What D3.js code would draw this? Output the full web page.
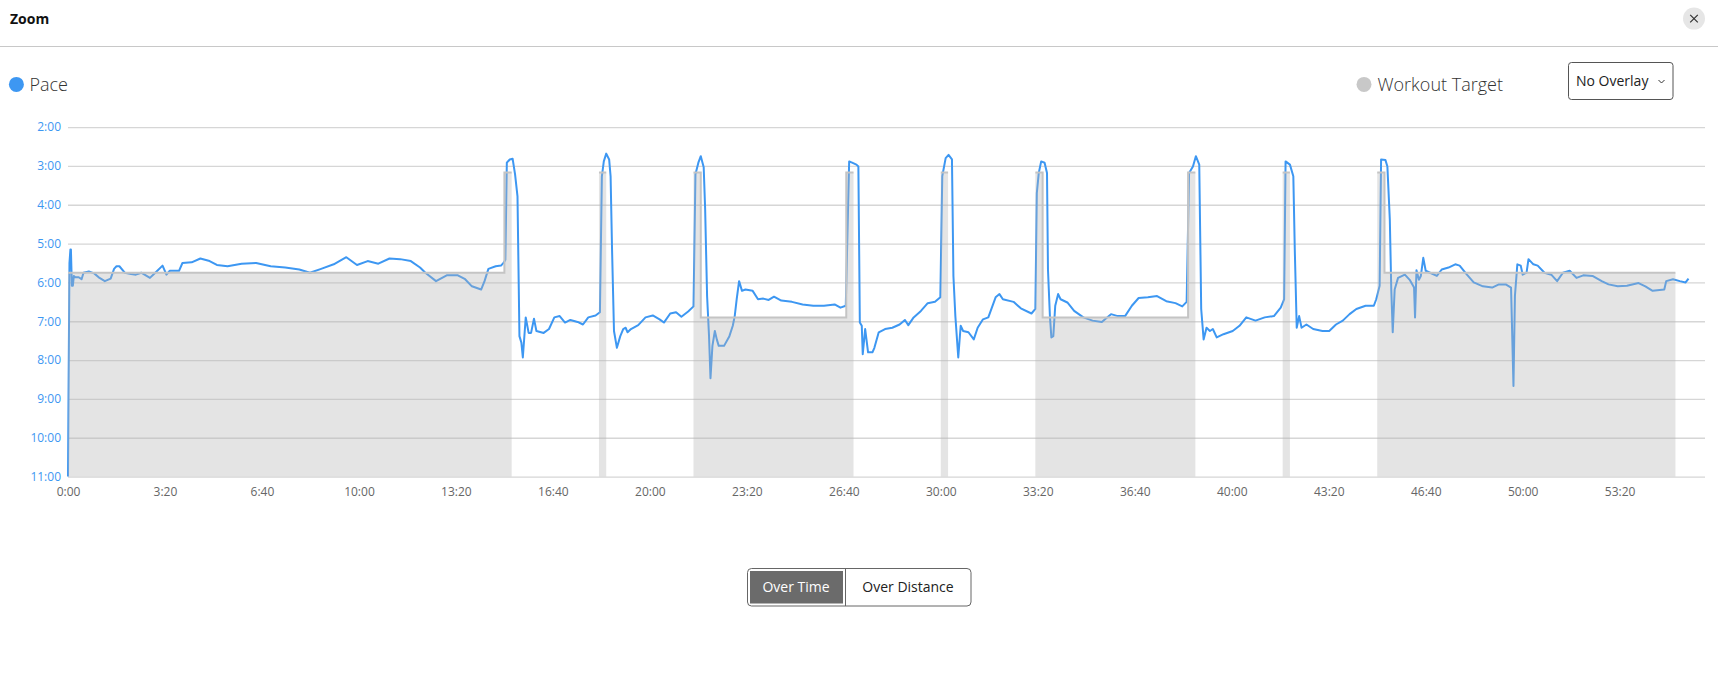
<!DOCTYPE html>
<html><head><meta charset="utf-8">
<script src="https://cdn.jsdelivr.net/npm/d3@7"></script>
<style>
html,body{margin:0;padding:0;background:#fff;}
svg{display:block;font-family:"Open Sans","Noto Sans",sans-serif;}
</style></head><body>
<svg id="c" width="1718" height="684"></svg>
<script>
// ---- data ----
const yTickValues = [120,180,240,300,360,420,480,540,600,660];
const xTickValues = [0,200,400,600,800,1000,1200,1400,1600,1800,2000,2200,2400,2600,2800,3000,3200];
const stepStart  = [0,900,915,1095,1110,1290,1305,1605,1620,1800,1815,1995,2010,2310,2325,2505,2520,2700,2715];
const stepTarget = [345,190,null,190,null,190,414,190,null,190,null,190,414,190,null,190,null,190,345];
const workoutEnd = 3315;
const paceTime = [0,1,3,5,6,8,10,12,15,22,28,32,43,54,65,76,88,95,100,106,117,130,140,151,169,180,195,203,210,229,236,255,273,292,307,329,358,388,418,448,477,499,522,548,574,596,618,640,663,685,707,726,737,759,781,804,819,833,852,859,867,882,893,899,902,905,911,917,922,927,931,935,938,944,950,955,961,966,981,992,1003,1014,1025,1036,1051,1062,1073,1088,1097,1101,1105,1110,1116,1119,1122,1126,1132,1139,1145,1150,1154,1161,1176,1191,1206,1220,1229,1242,1254,1265,1279,1290,1294,1300,1305,1311,1314,1318,1322,1325,1329,1334,1338,1342,1353,1364,1371,1375,1379,1384,1390,1397,1412,1423,1434,1445,1456,1471,1493,1515,1537,1559,1581,1593,1604,1611,1617,1626,1630,1633,1637,1639,1644,1650,1659,1663,1672,1685,1700,1715,1726,1733,1744,1759,1773,1788,1799,1803,1810,1816,1823,1826,1830,1836,1841,1846,1857,1868,1876,1887,1898,1913,1921,1928,1950,1965,1987,1995,1998,2002,2007,2014,2019,2021,2025,2028,2032,2036,2042,2047,2061,2075,2094,2113,2132,2151,2165,2180,2194,2208,2227,2246,2265,2284,2298,2307,2312,2320,2326,2333,2337,2342,2348,2355,2361,2369,2383,2402,2416,2430,2449,2468,2487,2501,2508,2511,2520,2527,2530,2534,2539,2544,2554,2568,2587,2601,2615,2629,2643,2657,2676,2693,2698,2705,2708,2717,2721,2726,2729,2732,2736,2743,2757,2767,2776,2778,2781,2786,2790,2795,2800,2809,2823,2833,2847,2861,2870,2885,2899,2918,2937,2951,2965,2976,2981,2984,2989,2996,3000,3008,3012,3022,3031,3045,3059,3071,3083,3097,3111,3125,3144,3163,3177,3196,3215,3239,3253,3268,3292,3296,3310,3324,3336,3342];
const paceValue = [660,540,330,309,309,365,365,350,352,352,355,345,343,346,353,358,354,339,335,335,345,347,348,345,353,345,334,348,342,342,330,329,323,327,333,335,331,330,335,337,340,345,339,332,321,333,327,331,323,324,327,337,345,358,349,349,355,366,371,358,339,335,334,329,325,175,170,169,193,227,443,453,476,414,438,438,416,435,438,432,414,412,422,418,421,425,414,411,406,196,173,161,170,196,309,435,461,443,432,430,437,432,426,414,411,417,422,408,406,413,405,397,193,175,165,182,247,381,443,508,458,435,448,458,458,443,427,412,386,358,373,371,373,386,385,387,382,388,390,394,396,396,394,399,396,173,175,178,181,422,427,471,432,468,468,461,437,432,430,425,418,426,414,404,392,390,383,196,168,163,170,350,412,476,427,435,437,448,430,417,414,383,378,386,390,400,408,401,222,191,173,175,191,340,412,445,443,396,378,386,391,404,414,419,421,409,412,412,396,384,383,381,389,392,397,390,191,181,165,178,401,448,430,435,432,445,440,435,427,414,419,414,412,399,386,173,178,196,309,430,412,430,425,432,435,435,425,419,409,401,396,396,386,365,170,171,181,263,371,437,371,353,348,356,368,414,341,356,350,322,342,345,350,340,337,332,334,348,360,366,368,363,363,368,520,381,332,334,348,345,324,332,334,345,348,358,345,342,353,349,350,358,363,366,365,361,366,373,371,358,355,358,360,354];

// ---- layout ----
const svg = d3.select("#c");
const W = 1718;
const plotL = 68, plotR = 1705, plotT = 127.1, plotB = 476.6;
const x = d3.scaleLinear().domain([0,3376]).range([plotL,plotR]);
const y = d3.scaleLinear().domain([120,660]).range([plotT,plotB]);
const fmt = s => Math.floor(s/60) + ":" + String(Math.round(s%60)).padStart(2,"0");

// header
svg.append("text").attr("x",10).attr("y",23.5).attr("font-size",14).attr("font-weight",700).attr("fill","#111").text("Zoom");
svg.append("circle").attr("cx",1694).attr("cy",18.6).attr("r",11).attr("fill","#e6e6e6");
svg.append("path").attr("d","M1690.2,14.8L1697.8,22.4M1697.8,14.8L1690.2,22.4").attr("stroke","#333").attr("stroke-width",1.2);
svg.append("line").attr("x1",0).attr("x2",W).attr("y1",46.5).attr("y2",46.5).attr("stroke","#c8c8c8").attr("stroke-width",1);

// legend
svg.append("circle").attr("cx",16.4).attr("cy",84.4).attr("r",7.5).attr("fill","#3d97f2");
svg.append("text").attr("x",29.5).attr("y",91).attr("font-size",18).attr("font-weight",300).attr("fill","#333").text("Pace");
svg.append("circle").attr("cx",1364).attr("cy",84.4).attr("r",7.5).attr("fill","#c8c8c8");
svg.append("text").attr("x",1377.5).attr("y",91).attr("font-size",18).attr("font-weight",300).attr("fill","#333").text("Workout Target");

// dropdown
svg.append("rect").attr("x",1568.5).attr("y",62.5).attr("width",104.5).attr("height",37).attr("rx",3).attr("fill","#fff").attr("stroke","#555");
svg.append("text").attr("x",1576).attr("y",86).attr("font-size",14).attr("fill","#222").text("No Overlay");
svg.append("path").attr("d","M1658.5,80L1661.5,83L1664.5,80").attr("fill","none").attr("stroke","#333").attr("stroke-width",1);

// grid + y axis
const yAxis = d3.axisLeft(y).tickValues(yTickValues).tickFormat(fmt).tickSizeInner(-(plotR-plotL)).tickSizeOuter(0).tickPadding(7);
const gy = svg.append("g").attr("transform",`translate(${plotL},0)`).call(yAxis);
gy.select(".domain").remove();
gy.selectAll(".tick line").attr("stroke","#d6d6d6").attr("stroke-width",1.3);
gy.selectAll(".tick text").attr("fill","#3d97f2").attr("font-size",12).attr("font-family","'Open Sans',sans-serif");

// x axis
const xAxis = d3.axisBottom(x).tickValues(xTickValues).tickFormat(fmt).tickSize(0).tickPadding(11);
const gx = svg.append("g").attr("transform",`translate(0,${plotB})`).call(xAxis);
gx.select(".domain").remove();
gx.selectAll(".tick text").attr("fill","#666").attr("font-size",12).attr("font-family","'Open Sans',sans-serif");

// pace line
const paceData = paceTime.map((t,i)=>({t, v: paceValue[i]}));
svg.append("path").datum(paceData)
  .attr("d", d3.line().x(d=>x(d.t)).y(d=>y(d.v)))
  .attr("fill","none").attr("stroke","#3d97f2").attr("stroke-width",2).attr("stroke-linejoin","round");

// workout target
const targetPts = [];
stepStart.forEach((s,i)=>{
  const e = i < stepStart.length-1 ? stepStart[i+1] : workoutEnd;
  const v = stepTarget[i];
  if (v == null) { targetPts.push({t:s, v:null}); }
  else { targetPts.push({t:s, v}); targetPts.push({t:e, v}); }
});
svg.append("path").datum(targetPts)
  .attr("d", d3.area().defined(d=>d.v!=null).x(d=>x(d.t)).y0(plotB).y1(d=>y(d.v)))
  .attr("fill","rgb(180,180,180)").attr("fill-opacity",0.36);
svg.append("path").datum(targetPts)
  .attr("d", d3.line().defined(d=>d.v!=null).x(d=>x(d.t)).y(d=>y(d.v)))
  .attr("fill","none").attr("stroke","#c4c4c4").attr("stroke-width",2);

// toggle buttons
svg.append("rect").attr("x",747.5).attr("y",568.5).attr("width",223.5).attr("height",37.5).attr("rx",4).attr("fill","#fff").attr("stroke","#666");
svg.append("rect").attr("x",750).attr("y",571).attr("width",93).attr("height",32.5).attr("fill","#6b6b6b");
svg.append("line").attr("x1",845.5).attr("x2",845.5).attr("y1",568.5).attr("y2",606).attr("stroke","#666");
svg.append("text").attr("x",796).attr("y",592).attr("text-anchor","middle").attr("font-size",14).attr("fill","#fff").text("Over Time");
svg.append("text").attr("x",908).attr("y",592).attr("text-anchor","middle").attr("font-size",14).attr("fill","#222").text("Over Distance");
</script>
</body></html>
